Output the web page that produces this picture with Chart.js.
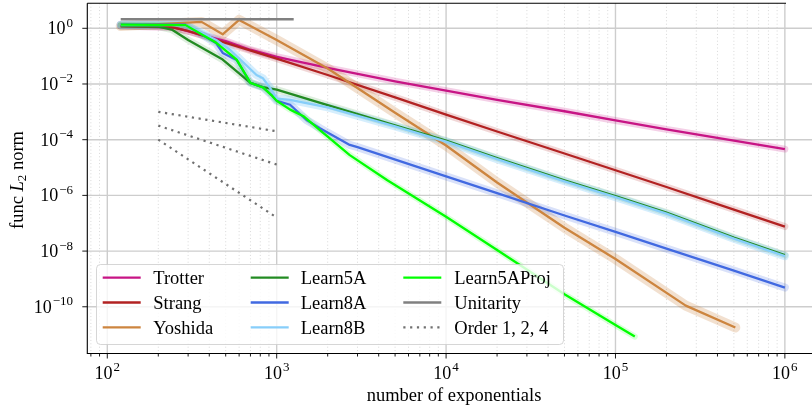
<!DOCTYPE html>
<html>
<head>
<meta charset="utf-8">
<script src="https://cdn.jsdelivr.net/npm/chart.js@4.4.0/dist/chart.umd.min.js"></script>
<style>
html,body{margin:0;padding:0;background:#fff;}
#wrap{width:812px;height:406px;position:relative;}
</style>
</head>
<body>
<div id="wrap"><canvas id="c"></canvas></div>
<script>
// ---------------- data ----------------
const trotterN   = [120, 250, 350, 500, 700, 1000, 2000, 5000, 10000, 20000, 50000, 100000, 200000, 500000, 1000000];
const trotterErr = [1.2, 1.05, 0.6, 0.35, 0.17, 0.095, 0.038, 0.0125, 5.8e-3, 2.7e-3, 1.05e-3, 4.9e-4, 2.35e-4, 9.3e-5, 4.6e-5];

const strangN   = [120, 230, 300, 500, 1000, 2000, 5000, 10000, 20000, 50000, 100000, 200000, 500000, 1000000];
const strangErr = [1.2, 1.15, 0.8, 0.3, 0.082, 0.021, 3.3e-3, 7.9e-4, 1.97e-4, 3.2e-5, 8.0e-6, 2.0e-6, 3.1e-7, 7.6e-8];

const yoshidaN   = [120, 360, 480, 600, 1000, 2000, 5000, 10000, 20000, 50000, 100000, 260000, 510000];
const yoshidaErr = [1.2, 1.7, 0.61, 2.0, 0.38, 0.036, 9.3e-4, 6.2e-5, 2.9e-6, 6.9e-8, 5.2e-9, 1.1e-10, 1.8e-11];

const learn5AN   = [120, 200, 240, 300, 480, 700, 830, 1000, 2000, 5000, 10000, 20000, 50000, 100000, 200000, 500000, 1000000];
const learn5AErr = [1.2, 1.15, 0.9, 0.38, 0.075, 0.011, 0.0077, 0.0063, 1.75e-3, 3.3e-4, 9.3e-5, 2.2e-5, 3.5e-6, 9.5e-7, 2.4e-7, 3.05e-8, 7.2e-9];

const learn8AN   = [120, 290, 440, 480, 580, 700, 830, 930, 1000, 1200, 1500, 1800, 2700, 3000, 10000, 20000, 50000, 100000, 200000, 500000, 1000000];
const learn8AErr = [1.35, 1.35, 0.29, 0.13, 0.073, 0.011, 0.0076, 0.0041, 0.0025, 0.0018, 5.1e-4, 2.6e-4, 6.5e-5, 5.4e-5, 4.8e-6, 1.2e-6, 1.9e-7, 4.9e-8, 1.23e-8, 2.0e-9, 4.9e-10];

const learn8BN   = [120, 290, 440, 530, 760, 830, 910, 1000, 1200, 2000, 5000, 10000, 20000, 50000, 100000, 200000, 500000, 1000000];
const learn8BErr = [1.3, 1.3, 0.38, 0.17, 0.021, 0.016, 0.0075, 0.003, 0.0027, 1.45e-3, 3.0e-4, 8.5e-5, 2.0e-5, 3.2e-6, 8.7e-7, 2.2e-7, 2.8e-8, 6.6e-9];

const learn5AProjN   = [120, 290, 440, 580, 700, 830, 930, 1000, 1200, 1450, 1800, 2700, 4500, 10000, 20000, 50000, 100000, 130000];
const learn5AProjErr = [1.35, 1.3, 0.3, 0.075, 0.011, 0.0075, 0.004, 0.0025, 1.2e-3, 6.8e-4, 2.2e-4, 2.8e-5, 3.5e-6, 1.7e-7, 1.1e-8, 2.8e-10, 2.2e-11, 8.5e-12];

const unitarityN   = [120, 1260];
const unitarityErr = [2.1, 2.1];

const orderN  = [200, 1000];
const order1  = [1e-3, 2e-4];
const order2  = [3.2e-4, 1.28e-5];
const order4  = [1e-4, 1.6e-7];

const xTickExps = [2, 3, 4, 5, 6];
const yTickExps = [0, -2, -4, -6, -8, -10];

const xLabel = 'number of exponentials';
const legendLabels = ['Trotter', 'Strang', 'Yoshida', 'Learn5A', 'Learn8A', 'Learn8B', 'Learn5AProj', 'Unitarity', 'Order 1, 2, 4'];

// ---------------- styling ----------------
const FONT = '"Liberation Serif", "Times New Roman", serif';
const styles = [
  {c:'#c71585', band:'rgba(199,21,133,0.20)', bw:7},
  {c:'#b22222', band:'rgba(178,34,34,0.18)', bw:7},
  {c:'#cd853f', band:'rgba(205,133,63,0.25)', bw:10},
  {c:'#228b22', band:'rgba(34,139,34,0.15)', bw:7},
  {c:'#4169e1', band:'rgba(65,105,225,0.20)', bw:8},
  {c:'#87cefa', band:'rgba(135,206,250,0.35)', bw:8},
  {c:'#00ff00', band:'rgba(0,255,0,0.15)', bw:6},
];
const seriesData = [
  [trotterN, trotterErr], [strangN, strangErr], [yoshidaN, yoshidaErr],
  [learn5AN, learn5AErr], [learn8AN, learn8AErr], [learn8BN, learn8BErr],
  [learn5AProjN, learn5AProjErr]
];
function pts(xs, ys){ return xs.map((x,i)=>({x:x, y:ys[i]})); }

const datasets = [];
seriesData.forEach((s, i) => {
  datasets.push({label: legendLabels[i] + ' band', data: pts(s[0], s[1]), borderColor: styles[i].band,
    borderWidth: styles[i].bw, pointRadius: 0, tension: 0, fill: false, order: 100 - i,
    borderJoinStyle: 'round', borderCapStyle: 'round'});
});
seriesData.forEach((s, i) => {
  datasets.push({label: legendLabels[i], data: pts(s[0], s[1]), borderColor: styles[i].c,
    borderWidth: 2.3, pointRadius: 0, tension: 0, fill: false, order: 50 - i,
    borderJoinStyle: 'round', borderCapStyle: 'butt'});
});
datasets.push({label: 'Unitarity', data: pts(unitarityN, unitarityErr), borderColor: '#808080',
  borderWidth: 2.6, pointRadius: 0, tension: 0, fill: false, order: 10});
[order1, order2, order4].forEach((o, k) => {
  datasets.push({label: 'Order', data: pts(orderN, o), borderColor: '#707070',
    borderWidth: 2.2, borderDash: [2.2, 4.6], pointRadius: 0, tension: 0, fill: false, order: 5 - k});
});

const AREA = {left: 87.3, top: 3.3, right: 812, bottom: 353.5};

function drawPow(ctx, exp, x, y, align) {
  const base = '10';
  const e = (exp < 0 ? '\u2212' : '') + Math.abs(exp);
  ctx.font = '18px ' + FONT;
  const w1 = ctx.measureText(base).width;
  ctx.font = '13px ' + FONT;
  const w2 = ctx.measureText(e).width;
  const total = w1 + 1 + w2;
  let x0 = align === 'center' ? x - total/2 : x - total;
  ctx.textAlign = 'left';
  ctx.textBaseline = 'alphabetic';
  ctx.font = '18px ' + FONT;
  ctx.fillText(base, x0, y);
  ctx.font = '13px ' + FONT;
  ctx.fillText(e, x0 + w1 + 1, y - 7.5);
}

const axesPlugin = {
  id: 'axesPlugin',
  beforeDatasetsDraw(chart) {
    const ctx = chart.ctx, xs = chart.scales.x, ys = chart.scales.y, a = chart.chartArea;
    ctx.save();
    for (let k = 1; k <= 6; k++) {
      for (let m = 1; m <= 9; m++) {
        const v = m * Math.pow(10, k);
        if (v < xs.min || v > xs.max) continue;
        const px = xs.getPixelForValue(v);
        ctx.beginPath();
        if (m === 1) { ctx.setLineDash([]); ctx.strokeStyle = '#cdcdcd'; ctx.lineWidth = 1.4; }
        else { ctx.setLineDash([1, 2.4]); ctx.strokeStyle = 'rgba(0,0,0,0.2)'; ctx.lineWidth = 0.8; }
        ctx.moveTo(px, a.top); ctx.lineTo(px, a.bottom); ctx.stroke();
      }
    }
    ctx.setLineDash([]);
    yTickExps.forEach(e => {
      const py = ys.getPixelForValue(Math.pow(10, e));
      ctx.beginPath(); ctx.strokeStyle = '#cdcdcd'; ctx.lineWidth = 1.4;
      ctx.moveTo(a.left, py); ctx.lineTo(a.right, py); ctx.stroke();
    });
    ctx.restore();
  },
  afterDraw(chart) {
    const ctx = chart.ctx, xs = chart.scales.x, ys = chart.scales.y, a = chart.chartArea;
    ctx.save();
    // legend
    const L = {x0: 96.5, y0: 264.5, x1: 563.5, y1: 344.5, r: 4};
    ctx.beginPath();
    ctx.roundRect(L.x0, L.y0, L.x1 - L.x0, L.y1 - L.y0, L.r);
    ctx.fillStyle = 'rgba(255,255,255,0.8)'; ctx.fill();
    ctx.strokeStyle = 'rgba(204,204,204,0.8)'; ctx.lineWidth = 1; ctx.stroke();
    const colH = [102.7, 250.7, 403.3], colT = [153.3, 300.7, 454.3], rowY = [277.7, 302.5, 327.3];
    const legendColors = styles.map(s => s.c).concat(['#808080', '#707070']);
    legendLabels.forEach((lab, i) => {
      const col = Math.floor(i / 3), row = i % 3;
      const y = rowY[row];
      ctx.beginPath();
      ctx.strokeStyle = legendColors[i];
      ctx.lineWidth = i === 7 ? 2.6 : 2.3;
      ctx.setLineDash(i === 8 ? [2.2, 4.6] : []);
      ctx.moveTo(colH[col], y); ctx.lineTo(colH[col] + 38, y); ctx.stroke();
      ctx.setLineDash([]);
      ctx.fillStyle = '#000'; ctx.font = '18.5px ' + FONT; ctx.textAlign = 'left'; ctx.textBaseline = 'alphabetic';
      ctx.fillText(lab, colT[col], y + 6.5);
    });
    // spines
    ctx.strokeStyle = '#000'; ctx.lineWidth = 1.1;
    ctx.beginPath();
    ctx.moveTo(a.left, a.top); ctx.lineTo(a.left, a.bottom); ctx.lineTo(a.right, a.bottom);
    ctx.moveTo(a.left, a.top); ctx.lineTo(786, a.top);
    ctx.stroke();
    // x ticks
    ctx.lineWidth = 0.9;
    for (let k = 1; k <= 6; k++) {
      for (let m = 1; m <= 9; m++) {
        const v = m * Math.pow(10, k);
        if (v < xs.min || v > xs.max) continue;
        const px = xs.getPixelForValue(v);
        ctx.beginPath(); ctx.moveTo(px, a.bottom); ctx.lineTo(px, a.bottom + (m === 1 ? 5 : 3)); ctx.stroke();
      }
    }
    yTickExps.forEach(e => {
      const py = ys.getPixelForValue(Math.pow(10, e));
      ctx.beginPath(); ctx.moveTo(a.left - 5, py); ctx.lineTo(a.left, py); ctx.stroke();
    });
    ctx.fillStyle = '#000';
    xTickExps.forEach(e => {
      const px = xs.getPixelForValue(Math.pow(10, e));
      drawPow(ctx, e, px, 378.5, 'center');
    });
    yTickExps.forEach(e => {
      const py = ys.getPixelForValue(Math.pow(10, e));
      drawPow(ctx, e, 73, py + 6, 'right');
    });
    ctx.font = '18.5px ' + FONT; ctx.textAlign = 'center'; ctx.textBaseline = 'alphabetic';
    ctx.fillText(xLabel, 454, 401);
    ctx.save();
    ctx.translate(22.5, 180);
    ctx.rotate(-Math.PI / 2);
    const parts = [
      {t: 'func ', f: '18.5px ' + FONT, dy: 0},
      {t: 'L', f: 'italic 18.5px ' + FONT, dy: 0},
      {t: '2', f: '13px ' + FONT, dy: 3.5},
      {t: ' norm', f: '18.5px ' + FONT, dy: 0}
    ];
    let tw = 0;
    parts.forEach(p => { ctx.font = p.f; p.w = ctx.measureText(p.t).width; tw += p.w; });
    let cx = -tw / 2;
    ctx.textAlign = 'left';
    parts.forEach(p => { ctx.font = p.f; ctx.fillText(p.t, cx, p.dy); cx += p.w; });
    ctx.restore();
    ctx.restore();
  }
};

new Chart(document.getElementById('c'), {
  type: 'line',
  data: {datasets: datasets},
  options: {
    responsive: true,
    maintainAspectRatio: false,
    animation: false,
    devicePixelRatio: 1,
    layout: {padding: {left: AREA.left, top: AREA.top, right: 812 - AREA.right, bottom: 406 - AREA.bottom}},
    plugins: {legend: {display: false}, tooltip: {enabled: false}},
    scales: {
      x: {type: 'logarithmic', display: false, bounds: 'data', min: 76.2, max: 1.446e6},
      y: {type: 'logarithmic', display: false, bounds: 'data', min: 2.1e-12, max: 7.9}
    }
  },
  plugins: [axesPlugin]
});
</script>
</body>
</html>
